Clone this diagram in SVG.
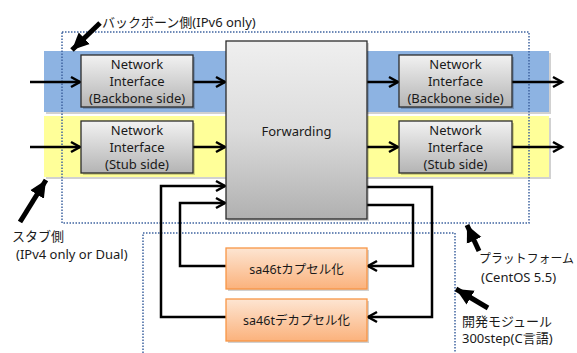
<svg xmlns="http://www.w3.org/2000/svg" width="577" height="353" viewBox="0 0 577 353">
<defs>
<linearGradient id="gGray" x1="0" y1="0" x2="0" y2="1">
<stop offset="0" stop-color="#f2f2f2"/>
<stop offset="1" stop-color="#b4b4b4"/>
</linearGradient>
<linearGradient id="gFwd" x1="0" y1="0" x2="0" y2="1">
<stop offset="0" stop-color="#efefef"/>
<stop offset="0.5" stop-color="#dcdcdc"/>
<stop offset="1" stop-color="#b0b0b0"/>
</linearGradient>
<linearGradient id="gOrange" x1="0" y1="0" x2="0" y2="1">
<stop offset="0" stop-color="#fde5d2"/>
<stop offset="1" stop-color="#fbb27c"/>
</linearGradient>
<marker id="chev" markerUnits="userSpaceOnUse" markerWidth="14" markerHeight="14" viewBox="0 0 14 14" refX="11" refY="7" orient="auto">
<path d="M2,2 L11,7 L2,12" fill="none" stroke="#000" stroke-width="2.5" stroke-linejoin="miter"/>
</marker>
<marker id="tri" markerUnits="userSpaceOnUse" markerWidth="18" markerHeight="18" viewBox="0 0 18 18" refX="17" refY="9" orient="auto">
<path d="M0,1 L17,9 L0,17 Z" fill="#000"/>
</marker>
</defs>
<style>
.txt{font-family:"Noto Sans","Noto Sans CJK JP",sans-serif;font-size:13px;fill:#1a1a1a}
.ctr{text-anchor:middle}
.ni{fill:url(#gGray);stroke:#2b2b2b;stroke-width:1.3}
.shadow{fill:#000;opacity:0.18}
.conn{fill:none;stroke:#000;stroke-width:2.5;marker-end:url(#chev)}
.big{fill:none;stroke:#000;stroke-width:5;marker-end:url(#tri)}
.dot{fill:none;stroke:#3f64a0;stroke-width:1.5;stroke-dasharray:1.5 1.5}
.org{fill:url(#gOrange);stroke:#f79646;stroke-width:1.3}
</style>

<!-- bands -->
<g id="band-backbone">
<rect x="46" y="53" width="505" height="61" class="shadow"/>
<rect x="44" y="51" width="505" height="61" fill="#8db3e2"/>
</g>
<g id="band-stub">
<rect x="46" y="118" width="505" height="61" class="shadow"/>
<rect x="44" y="116" width="505" height="61" fill="#ffff99"/>
</g>

<!-- dotted regions -->
<g id="platform-region">
<rect x="62" y="32" width="467" height="191" class="dot"/>
</g>
<g id="module-region">
<path d="M143,353 V233 H455 V353" class="dot"/>
</g>

<!-- connectors -->
<g id="connectors">
<line x1="30" y1="82" x2="80" y2="82" class="conn"/>
<line x1="30" y1="147" x2="80" y2="147" class="conn"/>
<line x1="193" y1="82" x2="225" y2="82" class="conn"/>
<line x1="193" y1="147" x2="225" y2="147" class="conn"/>
<line x1="367" y1="82" x2="398" y2="82" class="conn"/>
<line x1="367" y1="147" x2="398" y2="147" class="conn"/>
<line x1="512" y1="82" x2="562" y2="82" class="conn"/>
<line x1="512" y1="147" x2="562" y2="147" class="conn"/>
<path d="M367,187 H432 V317 H368" class="conn"/>
<path d="M367,205 H413 V266 H368" class="conn"/>
<path d="M226,266 H180 V203 H225" class="conn"/>
<path d="M226,317 H161 V186 H225" class="conn"/>
<line x1="100" y1="23" x2="72" y2="50" class="big"/>
<line x1="20" y1="222" x2="46" y2="180" class="big"/>
<line x1="479" y1="251" x2="467" y2="225" class="big"/>
<line x1="488" y1="308" x2="456" y2="289" class="big"/>
</g>

<!-- network interface boxes -->
<g id="ni-backbone-left">
<rect x="83" y="57" width="112" height="52" class="shadow"/>
<rect x="81" y="55" width="112" height="52" class="ni"/>
<text class="txt ctr" x="137" y="69">Network</text>
<text class="txt ctr" x="137" y="86">Interface</text>
<text class="txt ctr" x="137" y="103">(Backbone side)</text>
</g>
<g id="ni-stub-left">
<rect x="83" y="123" width="112" height="52" class="shadow"/>
<rect x="81" y="121" width="112" height="52" class="ni"/>
<text class="txt ctr" x="137" y="135">Network</text>
<text class="txt ctr" x="137" y="152">Interface</text>
<text class="txt ctr" x="137" y="169">(Stub side)</text>
</g>
<g id="ni-backbone-right">
<rect x="401" y="57" width="113" height="52" class="shadow"/>
<rect x="399" y="55" width="113" height="52" class="ni"/>
<text class="txt ctr" x="455.5" y="69">Network</text>
<text class="txt ctr" x="455.5" y="86">Interface</text>
<text class="txt ctr" x="455.5" y="103">(Backbone side)</text>
</g>
<g id="ni-stub-right">
<rect x="401" y="123" width="113" height="52" class="shadow"/>
<rect x="399" y="121" width="113" height="52" class="ni"/>
<text class="txt ctr" x="455.5" y="135">Network</text>
<text class="txt ctr" x="455.5" y="152">Interface</text>
<text class="txt ctr" x="455.5" y="169">(Stub side)</text>
</g>

<!-- forwarding -->
<g id="forwarding">
<rect x="228" y="43" width="141" height="178" class="shadow"/>
<rect x="226" y="41" width="141" height="178" fill="url(#gFwd)" stroke="#2b2b2b" stroke-width="1.3"/>
<text class="txt ctr" x="296.5" y="136">Forwarding</text>
</g>

<!-- sa46t modules -->
<g id="encap">
<rect x="228" y="250" width="141" height="41" class="shadow"/>
<rect x="226" y="248" width="141" height="41" class="org"/>
<text class="txt ctr" x="296.5" y="273.5" style="font-size:12.5px">sa46tカプセル化</text>
</g>
<g id="decap">
<rect x="228" y="301" width="141" height="42" class="shadow"/>
<rect x="226" y="299" width="141" height="42" class="org"/>
<text class="txt ctr" x="296.5" y="324.5" style="font-size:12.5px">sa46tデカプセル化</text>
</g>

<!-- labels -->
<g id="label-backbone">
<text class="txt" x="102" y="27">バックボーン側(IPv6 only)</text>
</g>
<g id="label-stub">
<text class="txt" x="12" y="241">スタブ側</text>
<text class="txt" x="16" y="259">(IPv4 only or Dual)</text>
</g>
<g id="label-platform">
<text class="txt" x="479" y="263" style="font-size:12px" textLength="95" lengthAdjust="spacingAndGlyphs">プラットフォーム</text>
<text class="txt" x="481" y="282">(CentOS 5.5)</text>
</g>
<g id="label-module">
<text class="txt" x="462" y="326">開発モジュール</text>
<text class="txt" x="462" y="343">300step(C言語)</text>
</g>
</svg>
